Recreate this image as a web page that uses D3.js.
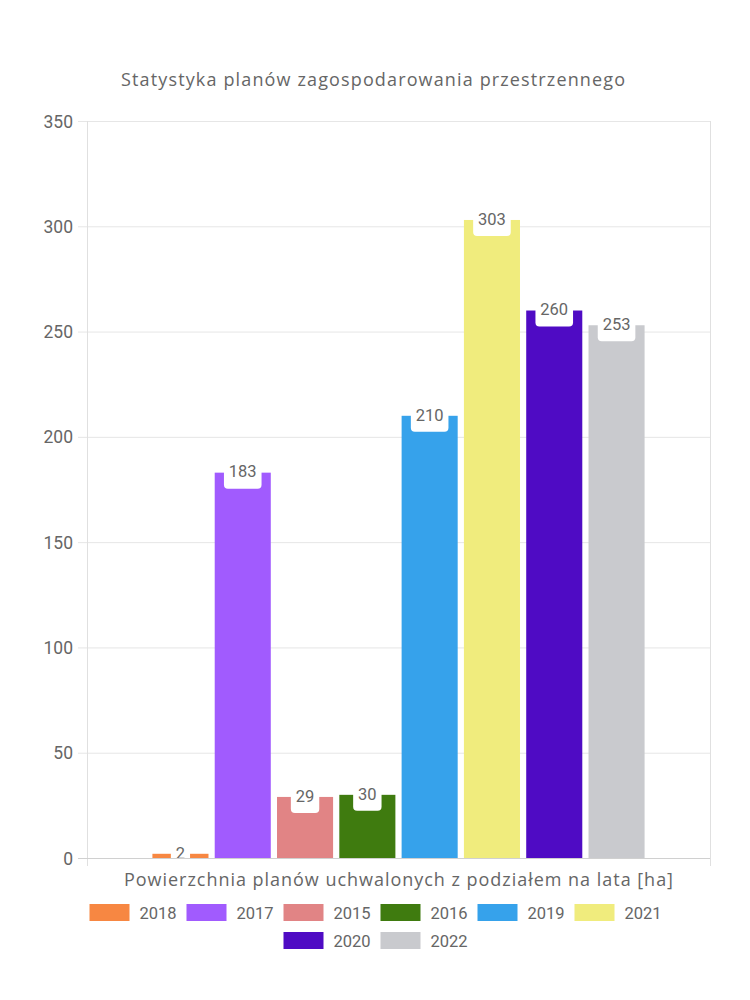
<!DOCTYPE html>
<html><head><meta charset="utf-8">
<script src="https://cdn.jsdelivr.net/npm/d3@7/dist/d3.min.js"></script>
<style>html,body{margin:0;padding:0;background:#fff;}</style>
</head><body>
<svg id="chart" width="750" height="1000"></svg>
<script>
const title = "Statystyka planów zagospodarowania przestrzennego";
const categories = ["Powierzchnia planów uchwalonych z podziałem na lata [ha]"];
const series = ["2018","2017","2015","2016","2019","2021","2020","2022"];
const values = [2,183,29,30,210,303,260,253];
const colors = ["#F78742","#A15BFE","#E18485","#3F7B0F","#36A2EB","#F0EC7D","#4F0BC4","#C9CACE"];
const yTicks = [0,50,100,150,200,250,300,350];

const svg = d3.select("#chart");
const L = 87, R = 710, T = 121, B = 858;
const numFont = "Roboto, 'Liberation Sans', sans-serif";
const txtFont = "'Open Sans', 'Noto Sans', sans-serif";

const y = d3.scaleLinear().domain([0,350]).range([B,T]);
const x0 = d3.scaleBand().domain(categories).range([L,R]).padding(0);
const gStart = x0(categories[0]) + x0.bandwidth()*0.1;
const gEnd = x0(categories[0]) + x0.bandwidth()*0.9;
const x1 = d3.scaleBand().domain(series).range([gStart,gEnd]).paddingInner(0.1).paddingOuter(0.05);

// title
svg.append("text").attr("x",373).attr("y",86).attr("text-anchor","middle")
  .attr("font-family",txtFont).attr("font-size",18).attr("fill","#666")
  .attr("textLength",504).attr("lengthAdjust","spacing").text(title);

// grid lines
const grid = svg.append("g");
yTicks.forEach(t=>{
  grid.append("line").attr("x1",L-9).attr("x2",R).attr("y1",y(t)+0.5).attr("y2",y(t)+0.5)
    .attr("stroke",t===0?"#d0d0d0":"#e6e6e6").attr("stroke-width",1);
});
[L,R].forEach(xv=>{
  grid.append("line").attr("x1",xv+0.5).attr("x2",xv+0.5).attr("y1",T).attr("y2",B+8)
    .attr("stroke","#e0e0e0").attr("stroke-width",1);
});

// y axis tick labels
const yAxis = d3.axisLeft(y).tickValues(yTicks).tickSize(0).tickPadding(0);
const ya = svg.append("g").attr("transform",`translate(${L-14},0)`).call(yAxis);
ya.select(".domain").remove();
ya.selectAll("text").attr("font-family",numFont).attr("font-size",17.5).attr("fill","#666").attr("dy","0.35em");

// bars
svg.append("g").selectAll("rect").data(series).join("rect")
  .attr("x",d=>x1(d)).attr("width",x1.bandwidth())
  .attr("y",(d,i)=>y(values[i])).attr("height",(d,i)=>B-y(values[i]))
  .attr("fill",(d,i)=>colors[i]);

// data labels
const lab = svg.append("g");
series.forEach((s,i)=>{
  const cx = x1(s)+x1.bandwidth()/2;
  const top = y(values[i]);
  const txt = String(values[i]);
  const w = txt.length*9.2+10;
  lab.append("rect").attr("x",cx-w/2).attr("y",top-18).attr("width",w).attr("height",34)
    .attr("rx",4).attr("fill","#fff");
  lab.append("text").attr("x",cx).attr("y",top-1).attr("dy","0.35em").attr("text-anchor","middle")
    .attr("font-family",numFont).attr("font-size",16.5).attr("fill","#666").text(txt);
});

// x axis line
svg.append("line").attr("x1",L).attr("x2",R).attr("y1",B+0.5).attr("y2",B+0.5)
  .attr("stroke","#d0d0d0").attr("stroke-width",1);
svg.append("rect").attr("x",L+1).attr("y",B+1).attr("width",R-L-1).attr("height",8).attr("fill","#fff");

// category label
svg.append("text").attr("x",x0(categories[0])+x0.bandwidth()/2).attr("y",886).attr("text-anchor","middle")
  .attr("font-family",txtFont).attr("font-size",18).attr("fill","#666")
  .attr("textLength",549).attr("lengthAdjust","spacing").text(categories[0]);

// legend
const rows = [series.slice(0,6), series.slice(6)];
const rowY = [904, 932];
const itemW = 97;
rows.forEach((row,ri)=>{
  const total = row.length*itemW - 11;
  let sx = 375 - total/2;
  row.forEach((s,j)=>{
    const idx = series.indexOf(s);
    const xx = sx + j*itemW;
    svg.append("rect").attr("x",xx).attr("y",rowY[ri]).attr("width",40).attr("height",17).attr("fill",colors[idx]);
    svg.append("text").attr("x",xx+50).attr("y",rowY[ri]+9).attr("dy","0.35em")
      .attr("font-family",numFont).attr("font-size",16.5).attr("fill","#666").text(s);
  });
});
</script>
</body></html>
